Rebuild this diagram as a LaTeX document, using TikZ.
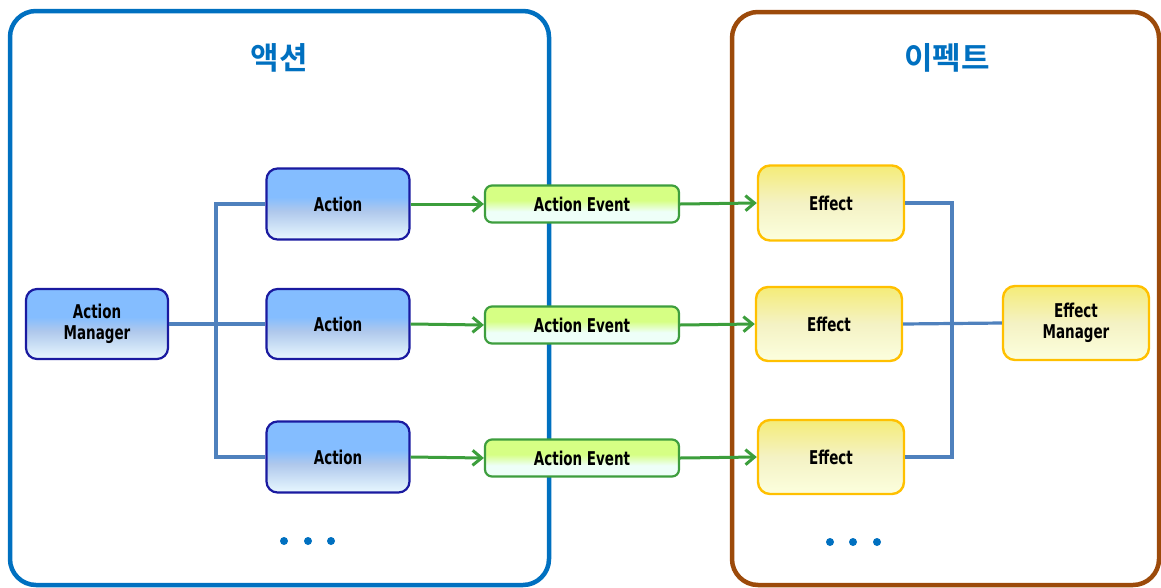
\documentclass[tikz,border=0pt]{standalone}
\usepackage{fontspec}
\usetikzlibrary{arrows.meta}
\newfontfamily\krfont{Noto Sans CJK KR Bold}
\newfontfamily\lblfont{DejaVu Sans Bold}[FakeStretch=0.71]

% palette
\definecolor{lframe}{HTML}{0070C0}
\definecolor{rframe}{HTML}{9C4A0A}
\definecolor{titlec}{HTML}{0070C0}
\definecolor{busc}{HTML}{4F81BD}
\definecolor{flowc}{HTML}{3C9E3C}
\definecolor{actborder}{HTML}{1A1AA0}
\definecolor{acttop}{HTML}{84BDFF}
\definecolor{actmid}{HTML}{AFC8EC}
\definecolor{actbot}{HTML}{E8F8FF}
\definecolor{evborder}{HTML}{3E9E3E}
\definecolor{evtop}{HTML}{D6FF84}
\definecolor{evbot}{HTML}{EEFFF8}
\definecolor{efborder}{HTML}{FFC000}
\definecolor{eftop}{HTML}{F4EC78}
\definecolor{efmid}{HTML}{F4F2C4}
\definecolor{efbot}{HTML}{FCFFDE}

% vertical fills: 25bp = bottom edge, 75bp = top edge
\pgfdeclareverticalshading{actshade}{100bp}{color(0bp)=(actbot); color(25bp)=(actbot); color(45bp)=(actmid); color(55bp)=(acttop); color(75bp)=(acttop); color(100bp)=(acttop)}
\pgfdeclareverticalshading{evshade}{100bp}{color(0bp)=(evbot); color(25bp)=(evbot); color(40bp)=(evbot); color(55bp)=(evtop); color(75bp)=(evtop); color(100bp)=(evtop)}
\pgfdeclareverticalshading{efshade}{100bp}{color(0bp)=(efbot); color(25bp)=(efbot); color(50bp)=(efmid); color(75bp)=(eftop); color(100bp)=(eftop)}

\tikzset{
  lbl/.style={font=\lblfont\fontsize{19}{21}\selectfont, align=center, text=black, inner sep=0pt},
  actbox/.style={lbl, draw=actborder, line width=2.2pt, rounded corners=11pt, shading=actshade,
    minimum width=143pt, minimum height=71pt},
  evbox/.style={lbl, draw=evborder, line width=2.2pt, rounded corners=7pt, shading=evshade,
    minimum width=194pt, minimum height=37pt},
  efbox/.style={lbl, draw=efborder, line width=2.4pt, rounded corners=12pt, shading=efshade,
    minimum width=146pt, minimum height=74pt},
  bus/.style={draw=busc, line width=3.2pt},
  flow/.style={draw=flowc, line width=3pt, -{Straight Barb[length=9pt,width=15pt,line width=3pt]}},
  frame/.style={line width=4.5pt, rounded corners=26pt},
  title/.style={font=\krfont\fontsize{31}{34}\selectfont, text=titlec, inner sep=0pt},
  dot/.style={circle, fill=lframe, minimum size=8pt, inner sep=0pt},
}

\begin{document}
\begin{tikzpicture}[x=1pt, y=-1pt]
\useasboundingbox (0,0) rectangle (1161,587);

% group frames
\draw[frame, lframe] (10,11) rectangle (549,585);
\draw[frame, rframe] (732,12) rectangle (1159,585);

\node[title] (tact) at (279,58) {액션};
\node[title] (teff) at (947,58) {이펙트};

% action side
\node[actbox, minimum width=142pt, minimum height=70pt] (am) at (97,324) {Action\\Manager};
\node[actbox] (a1) at (338,204) {Action};
\node[actbox, minimum height=70pt] (a2) at (338,324) {Action};
\node[actbox] (a3) at (338,457) {Action};

% events
\node[evbox] (e1) at (582,204) {Action Event};
\node[evbox] (e2) at (582,325) {Action Event};
\node[evbox] (e3) at (582,458) {Action Event};

% effect side
\node[efbox, minimum height=75pt] (f1) at (831,203) {Effect};
\node[efbox] (f2) at (829,324) {Effect};
\node[efbox] (f3) at (831,457) {Effect};
\node[efbox] (fm) at (1076,323) {Effect\\Manager};

% tree connectors
\coordinate (lb) at (216,0);
\coordinate (rb) at (952,0);
\draw[bus] (a1.west) -- (a1.west -| lb) -- (a3.west -| lb) -- (a3.west);
\draw[bus] (am.east) -- (a2.west);
\draw[bus] (f1.east) -- (f1.east -| rb) -- (f3.east -| rb) -- (f3.east);
\draw[bus] (f2.east) -- (fm.west);

% event flow
\draw[flow] (a1.east) -- (e1.west);
\draw[flow] (a2.east) -- (e2.west);
\draw[flow] (a3.east) -- (e3.west);
\draw[flow] (e1.east) -- (f1.west);
\draw[flow] (e2.east) -- (f2.west);
\draw[flow] (e3.east) -- (f3.west);

% continuation marks
\node[dot] (ld1) at (284,541) {};
\node[dot] (ld2) at (308,541) {};
\node[dot] (ld3) at (331,541) {};
\node[dot] (rd1) at (830,542) {};
\node[dot] (rd2) at (853,542) {};
\node[dot] (rd3) at (877,542) {};
\end{tikzpicture}
\end{document}
